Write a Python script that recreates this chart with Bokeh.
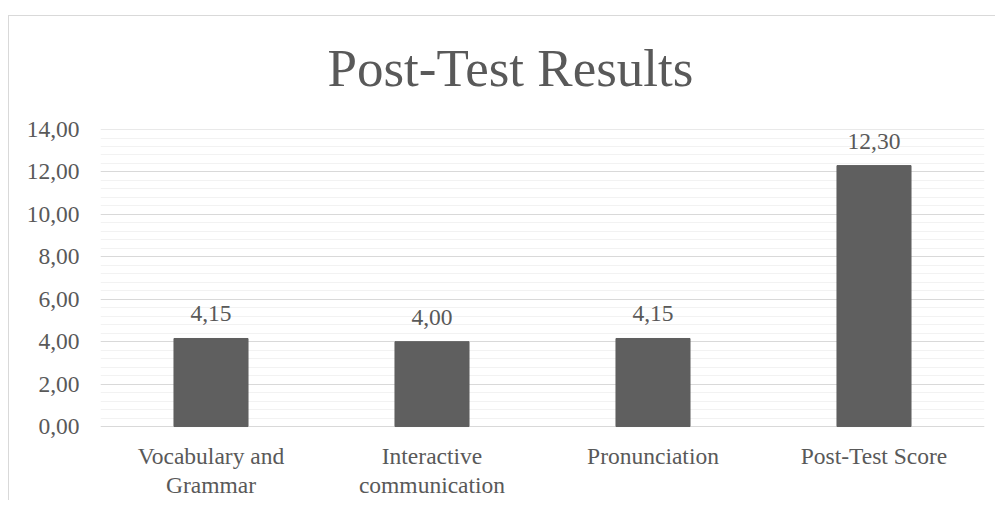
from bokeh.plotting import figure
from bokeh.models import (ColumnDataSource, SingleIntervalTicker, CustomJSTickFormatter, Range1d,
                          FactorRange)
from bokeh.core.properties import value
from bokeh.embed import file_html
from bokeh.resources import INLINE

# category labels: first line (next to axis) and second line (blank = single-line label)
category_line1 = ["Vocabulary and", "Interactive", "Pronunciation", "Post-Test Score"]
category_line2 = ["Grammar", "communication", " ", "  "]
scores = [4.15, 4.00, 4.15, 12.30]
title_text = "Post-Test Results"
y_max = 14

FONT = "Liberation Serif"
TXT = "#595959"
FS = "23.5px"

factors = [(g, s) for s, g in zip(category_line1, category_line2)]
labels = [f"{v:.2f}".replace(".", ",") for v in scores]
src = ColumnDataSource(dict(cat=factors, val=scores, lab=labels))

# a little room below zero so the category labels sit where they do in the reference
p = figure(x_range=FactorRange(factors=factors, range_padding=0, group_padding=0, factor_padding=0),
           y_range=Range1d(-0.47, y_max + 0.001),
           width=995, height=500, output_backend="svg", toolbar_location=None,
           min_border_left=100, min_border_right=11, min_border_top=129, min_border_bottom=64)

# chart border: left and top edges as seen in the cropped reference
p.border_fill_color = None
p.styles = {
    "background-image": "linear-gradient(#d9d9d9,#d9d9d9), linear-gradient(#d9d9d9,#d9d9d9)",
    "background-size": "1px 100%, 100% 1px",
    "background-position": "8px 15px, 8px 15px",
    "background-repeat": "no-repeat",
}

p.title.text = title_text
p.title.align = "left"
p.title.offset = 227
p.title.text_font = FONT
p.title.text_font_size = "53px"
p.title.text_font_style = "normal"
p.title.text_color = TXT
p.title.standoff = 66

p.vbar(x="cat", top="val", bottom=0, width=0.335, source=src, fill_color="#5f5f5f", line_color="#5f5f5f")
p.text(x="cat", y="val", text="lab", source=src, text_align="center", text_baseline="bottom",
       y_offset=-17, text_font=value(FONT), text_font_size=FS, text_color=TXT)

p.outline_line_color = None
p.background_fill_color = "white"

p.yaxis.ticker = SingleIntervalTicker(interval=2, num_minor_ticks=5)
p.yaxis.formatter = CustomJSTickFormatter(code="return tick.toFixed(2).replace('.', ',');")
p.yaxis.bounds = (0, y_max)
p.yaxis.axis_line_color = None
p.yaxis.major_tick_line_color = None
p.yaxis.minor_tick_line_color = None
p.yaxis.major_label_standoff = 15
p.yaxis.major_label_text_font = FONT
p.yaxis.major_label_text_font_size = FS
p.yaxis.major_label_text_color = TXT

xa = p.xaxis[0]
xa.axis_line_color = None
xa.major_tick_line_color = None
xa.minor_tick_line_color = None
xa.major_label_standoff = 0
xa.separator_line_color = None
xa.major_label_orientation = "horizontal"
xa.group_label_orientation = "horizontal"
for pre in ("major_label_", "group_"):
    setattr(xa, pre + "text_font", FONT)
    setattr(xa, pre + "text_font_size", FS)
    setattr(xa, pre + "text_color", TXT)
xa.group_text_font_style = "normal"

p.xgrid.grid_line_color = None
p.ygrid.grid_line_color = "#d9d9d9"
p.ygrid.minor_grid_line_color = "#f2f2f2"
p.ygrid.ticker = p.yaxis.ticker
p.ygrid.bounds = (0, y_max + 0.001)

open("out.html", "w").write(file_html(p, INLINE))
